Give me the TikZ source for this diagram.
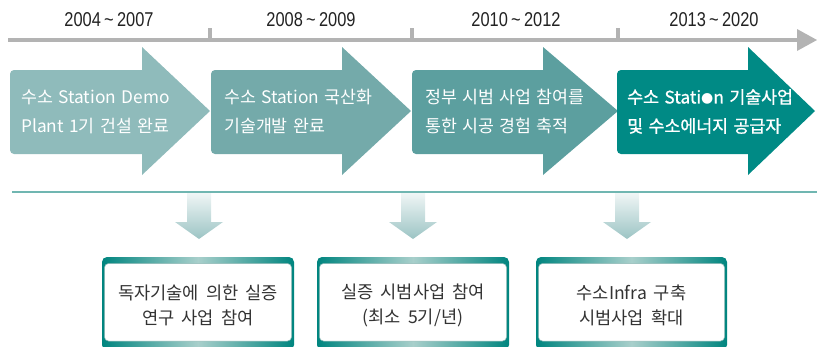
\documentclass[tikz,border=0pt]{standalone}
\usepackage{fontspec}
\setmainfont[WordSpace=1.4]{Noto Sans CJK KR}
\newfontfamily\yearfont[FakeStretch=0.82]{Liberation Sans}
\newfontfamily\krbold[FakeBold=1,WordSpace=1.4]{Noto Sans CJK KR}
\newfontfamily\boxfont[WordSpace=1.8]{Noto Sans CJK KR}
\newfontfamily\symfont{DejaVu Sans}
\definecolor{tlgray}{HTML}{B3B3B3}
\definecolor{yeartxt}{HTML}{222222}
\definecolor{cA}{HTML}{8FBBBB}
\definecolor{cB}{HTML}{74AAAA}
\definecolor{cC}{HTML}{5C9F9F}
\definecolor{cD}{HTML}{008A85}
\definecolor{tealline}{HTML}{70B6B1}
\definecolor{dtop}{HTML}{F0F6F6}
\definecolor{dbot}{HTML}{9CC4C4}
\definecolor{bteal}{HTML}{00857F}
\definecolor{blight}{HTML}{A8CFCB}
\definecolor{bborder}{HTML}{8FB8B5}
\definecolor{boxtxt}{HTML}{333333}
\newcommand\chevshape[4]{%
  \fill[#4] ({(#1+#2)/2},70) [rounded corners=4pt] -- (#1,70) -- (#1,154) -- ({(#1+#2)/2},154) [sharp corners] -- (#2,154) -- (#2,175) -- (#3,111) -- (#2,47) -- (#2,70) -- cycle;}
\newcommand\downshape[1]{%
  \path[top color=dtop, bottom color=dbot] ({#1-12},193) -- ({#1+12},193) -- ({#1+12},222) -- ({#1+24},222) -- (#1,239) -- ({#1-24},222) -- ({#1-12},222) -- cycle;}
\newcommand\boxshape[2]{%
  \path[left color=bteal, right color=bteal, middle color=blight, rounded corners=5pt] (#1,257) rectangle (#2,350);
  \filldraw[fill=white, draw=bborder, line width=0.5pt, rounded corners=4pt] ({#1+2.5},263.5) rectangle ({#2-2.5},341);}
\begin{document}
\begin{tikzpicture}[x=1pt,y=-1pt,
  year/.style={font=\yearfont\fontsize{20}{20}\selectfont, text=yeartxt, inner sep=0pt},
  atext/.style={font=\fontsize{17.3}{29}\selectfont, text=white, align=left, anchor=west, inner sep=0pt},
  btext/.style={font=\boxfont\fontsize{17.6}{25}\selectfont, text=boxtxt, align=center, inner sep=0pt}]
\useasboundingbox (0,0) rectangle (817,346);
% timeline
\draw[tlgray, line width=4pt] (8,40) -- (800,40);
\fill[tlgray] (797,29) -- (817,40) -- (797,51) -- cycle;
\foreach \tx in {210,412,618} \draw[tlgray, line width=4pt] (\tx,28) -- (\tx,41);
\node[year] (y1) at (109,20) {2004\,\textasciitilde\,2007};
\node[year] (y2) at (311,20) {2008\,\textasciitilde\,2009};
\node[year] (y3) at (516,20) {2010\,\textasciitilde\,2012};
\node[year] (y4) at (714,20) {2013\,\textasciitilde\,2020};
% chevrons
\chevshape{10}{142}{210}{cA}
\chevshape{211}{342}{411}{cB}
\chevshape{412}{543}{618}{cC}
\chevshape{617}{748}{815}{cD}
\node[atext] (a1) at (21,111.5) {수소 Station Demo\\Plant 1기 건설 완료};
\node[atext] (a2) at (224,111.5) {수소 Station 국산화\\기술개발 완료};
\node[atext] (a3) at (425,111.5) {정부 시범 사업 참여를\\통한 시공 경험 축적};
\node[atext, font=\krbold\fontsize{17.3}{29}\selectfont] (a4) at (627,111.5) {수소 Stati{\symfont\fontsize{14}{14}\selectfont\raisebox{0.5pt}{●}}n 기술사업\\및 수소에너지 공급자};
% separator
\draw[tealline, line width=1.5pt] (12,192) -- (817,192);
% down arrows
\downshape{199}
\downshape{413}
\downshape{627}
% boxes
\boxshape{102}{294}
\boxshape{317}{509}
\boxshape{536}{727}
\node[btext] (b1) at (198,305.5) {독자기술에 의한 실증\\연구 사업 참여};
\node[btext] (b2) at (413,305.5) {실증 시범사업 참여\\(최소 5기/년)};
\node[btext] (b3) at (631.5,305.5) {수소Infra 구축\\시범사업 확대};
\end{tikzpicture}
\end{document}
